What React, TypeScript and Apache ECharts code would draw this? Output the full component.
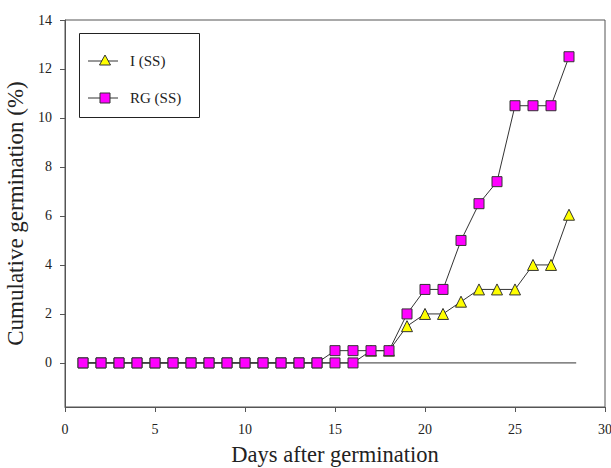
import React, { useEffect, useRef } from "react";
import * as echarts from "echarts";

const days = [1, 2, 3, 4, 5, 6, 7, 8, 9, 10, 11, 12, 13, 14, 15, 16, 17, 18, 19, 20, 21, 22, 23, 24, 25, 26, 27, 28];
const iSS = [0, 0, 0, 0, 0, 0, 0, 0, 0, 0, 0, 0, 0, 0, 0, 0, 0.5, 0.5, 1.5, 2, 2, 2.5, 3, 3, 3, 4, 4, 6.05];
const rgSS = [0, 0, 0, 0, 0, 0, 0, 0, 0, 0, 0, 0, 0, 0, 0.5, 0.5, 0.5, 0.5, 2, 3, 3, 5, 6.5, 7.4, 10.5, 10.5, 10.5, 12.5];
const refLineX = [1, 28.4];
const refLineY = [0, 0];
const yTicks = [0, 2, 4, 6, 8, 10, 12, 14];
const legendNames = ["I (SS)", "RG (SS)"];

const FONT = "Liberation Serif";

export default function App() {
  const ref = useRef<HTMLDivElement>(null);
  useEffect(() => {
    if (!ref.current) return;
    const chart = echarts.init(ref.current, undefined, { renderer: "svg" });
    const axisColor = "#555";
    const lx = 88, lw = 30, ly1 = 61, ly2 = 98;
    chart.setOption({
      animation: false,
      backgroundColor: "#fff",
      textStyle: { fontFamily: FONT },
      grid: {
        left: 65,
        top: 20,
        right: 6,
        bottom: 61,
        outerBoundsMode: "none",
        containLabel: false,
        show: true,
        borderColor: axisColor,
        borderWidth: 1,
        backgroundColor: "transparent",
      },
      graphic: [
        { type: "rect", shape: { x: 79.5, y: 33.5, width: 120, height: 84 }, style: { fill: "none", stroke: "#222", lineWidth: 1 }, z: 10 },
        { type: "line", shape: { x1: lx, y1: ly1, x2: lx + lw, y2: ly1 }, style: { stroke: "#333", lineWidth: 1 }, z: 10 },
        { type: "polygon", shape: { points: [[105, ly1 - 6], [110.5, ly1 + 4], [99.5, ly1 + 4]] }, style: { fill: "#ffff00", stroke: "#333", lineWidth: 1 }, z: 11 },
        { type: "text", style: { x: 130, y: ly1, text: legendNames[0], font: `15px ${FONT}`, fill: "#222", verticalAlign: "middle" }, z: 11 },
        { type: "line", shape: { x1: lx, y1: ly2, x2: lx + lw, y2: ly2 }, style: { stroke: "#333", lineWidth: 1 }, z: 10 },
        { type: "rect", shape: { x: 100, y: ly2 - 5, width: 10, height: 10 }, style: { fill: "#ff00ff", stroke: "#333", lineWidth: 1 }, z: 11 },
        { type: "text", style: { x: 130, y: ly2, text: legendNames[1], font: `15px ${FONT}`, fill: "#222", verticalAlign: "middle" }, z: 11 },
      ],
      xAxis: {
        type: "value",
        min: 0,
        max: 30,
        interval: 5,
        name: "Days after germination",
        nameLocation: "middle",
        nameGap: 36,
        nameTextStyle: { fontFamily: FONT, fontSize: 22.5, color: "#222" },
        axisLine: { show: true, onZero: false, lineStyle: { color: axisColor } },
        axisTick: { show: true, length: 5, lineStyle: { color: axisColor } },
        axisLabel: { fontFamily: FONT, fontSize: 14, color: "#222", margin: 15 },
        splitLine: { show: false },
      },
      yAxis: {
        type: "value",
        min: -1.8,
        max: 14,
        name: "Cumulative germination (%)",
        nameLocation: "middle",
        nameGap: 36,
        nameTextStyle: { fontFamily: FONT, fontSize: 23, color: "#222" },
        axisLine: { show: true, onZero: false, lineStyle: { color: axisColor } },
        axisTick: { show: true, length: 5, lineStyle: { color: axisColor }, customValues: yTicks },
        axisLabel: { fontFamily: FONT, fontSize: 14, color: "#222", margin: 13, customValues: yTicks },
        splitLine: { show: false },
      },
      series: [
        {
          name: "ref",
          type: "line",
          data: refLineX.map((x, i) => [x, refLineY[i]]),
          symbol: "none",
          lineStyle: { color: "#333", width: 1 },
          silent: true,
          z: 1,
        },
        {
          name: legendNames[0],
          type: "line",
          data: days.map((d, i) => [d, iSS[i]]),
          symbol: (v: number[]) => (v[0] <= 16 ? "rect" : "triangle"),
          symbolSize: (v: number[]) => (v[0] <= 16 ? 10 : 11),
          lineStyle: { color: "#333", width: 1 },
          itemStyle: {
            color: (p: any) => (p.value[0] <= 16 ? "#ff00ff" : "#ffff00"),
            borderColor: "#333",
            borderWidth: 1,
          },
          z: 2,
        },
        {
          name: legendNames[1],
          type: "line",
          data: days.map((d, i) => [d, rgSS[i]]),
          symbol: "rect",
          symbolSize: 10,
          lineStyle: { color: "#333", width: 1 },
          itemStyle: { color: "#ff00ff", borderColor: "#333", borderWidth: 1 },
          z: 3,
        },
      ],
    });
    return () => chart.dispose();
  }, []);
  return <div ref={ref} style={{ width: 611, height: 468, position: "absolute", left: 0, top: 0 }} />;
}
